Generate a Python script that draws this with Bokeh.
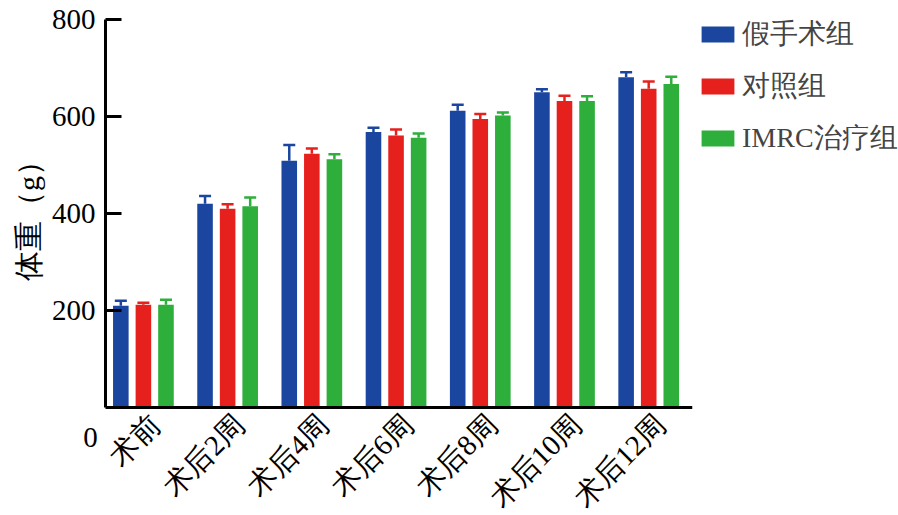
import math
from bokeh.plotting import figure
from bokeh.models import (Range1d, ColumnDataSource, Whisker, Legend, LegendItem,
                          Label, FixedTicker)
from bokeh.embed import file_html
from bokeh.resources import INLINE

categories = ["术前", "术后2周", "术后4周", "术后6周", "术后8周", "术后10周", "术后12周"]
series_names = ["假手术组", "对照组", "IMRC治疗组"]
sham = [210, 420, 509, 568, 612, 650, 681]
sham_err = [10, 16, 32, 9, 12, 6, 10]
control = [212, 410, 523, 561, 595, 632, 657]
control_err = [4, 9, 11, 12, 10, 11, 15]
imrc = [212, 415, 512, 556, 602, 632, 667]
imrc_err = [10, 18, 10, 9, 6, 10, 15]
y_ticks = [200, 400, 600, 800]

colors = ["#1b46a0", "#e6211d", "#2eae3b"]
SERIF = "Liberation Serif"

# layout: axes box 587 x 388 px; drawing area extends left/below/above it
X0, X1, Y0, Y1 = -0.45, 6.52, 0, 800
px_x = 587 / (X1 - X0)
px_y = 388 / (Y1 - Y0)
left_extra, bottom_extra, top_extra = 101, 103, 15
x_start = X0 - left_extra / px_x
y_start = Y0 - bottom_extra / px_y
y_end = Y1 + top_extra / px_y
label_shift = 12 / px_x

p = figure(frame_width=587 + left_extra, frame_height=388 + bottom_extra + top_extra,
           output_backend="svg", toolbar_location=None,
           x_range=Range1d(x_start, X1), y_range=Range1d(y_start, y_end),
           min_border_left=4, min_border_top=4, min_border_right=0,
           min_border_bottom=3)
p.outline_line_color = None
p.grid.visible = False
p.background_fill_color = "white"
p.border_fill_color = "white"

offsets = [-0.268, 0.0, 0.268]
bar_w = 0.185
renderers = []
for vals, errs, off, col in zip([sham, control, imrc], [sham_err, control_err, imrc_err],
                                offsets, colors):
    xs = [i + off for i in range(len(categories))]
    src = ColumnDataSource(dict(x=xs, top=vals, upper=[v + e for v, e in zip(vals, errs)]))
    w = Whisker(source=src, base="x", upper="upper", lower="top", dimension="height",
                line_color=col, line_width=2.5, lower_head=None)
    w.upper_head.line_color = col
    w.upper_head.line_width = 2.5
    w.upper_head.size = 12
    p.add_layout(w)
    r = p.vbar(x="x", top="top", width=bar_w, bottom=0, source=src,
               fill_color=col, line_color=None)
    renderers.append(r)

# y axis
ya = p.yaxis[0]
ya.fixed_location = X0
ya.bounds = (Y0, Y1)
ya.ticker = FixedTicker(ticks=y_ticks)
ya.axis_line_width = 3
ya.major_tick_line_width = 3
ya.major_tick_in = 16
ya.major_tick_out = 0
ya.minor_tick_line_color = None
ya.major_label_text_font = SERIF
ya.major_label_text_font_size = "29px"
ya.major_label_text_color = "black"
ya.major_label_standoff = 10
ya.axis_label = "体重（g）"
ya.axis_label_text_font = SERIF
ya.axis_label_text_font_size = "30px"
ya.axis_label_text_font_style = "normal"
ya.axis_label_text_color = "black"
ya.axis_label_standoff = 4

# x axis (labels sit slightly right of the group centres, as in the source)
label_pos = [i + label_shift for i in range(len(categories))]
xa = p.xaxis[0]
xa.fixed_location = Y0
xa.bounds = (X0, X1)
xa.ticker = FixedTicker(ticks=label_pos)
xa.major_label_overrides = {pos: c for pos, c in zip(label_pos, categories)}
xa.major_label_orientation = math.pi / 4
xa.axis_line_width = 3
xa.major_tick_line_color = None
xa.major_tick_in = 0
xa.major_tick_out = 0
xa.minor_tick_line_color = None
xa.major_label_text_font = SERIF
xa.major_label_text_font_size = "29px"
xa.major_label_text_color = "black"
xa.major_label_standoff = 12

zero = Label(x=X0, y=Y0, x_offset=-15, y_offset=-30, text="0",
             text_font=SERIF, text_font_size="29px", text_align="center",
             text_baseline="middle", text_color="black")
p.add_layout(zero)

legend = Legend(items=[LegendItem(label=n, renderers=[r]) for n, r in zip(series_names, renderers)],
                location=(5, 250 + bottom_extra), glyph_width=41, glyph_height=20,
                label_text_font=SERIF, label_text_font_size="28px",
                label_standoff=4, spacing=14, padding=0, margin=0,
                border_line_color=None, background_fill_alpha=0)
p.add_layout(legend, "right")

open("out.html", "w").write(file_html(p, INLINE))
